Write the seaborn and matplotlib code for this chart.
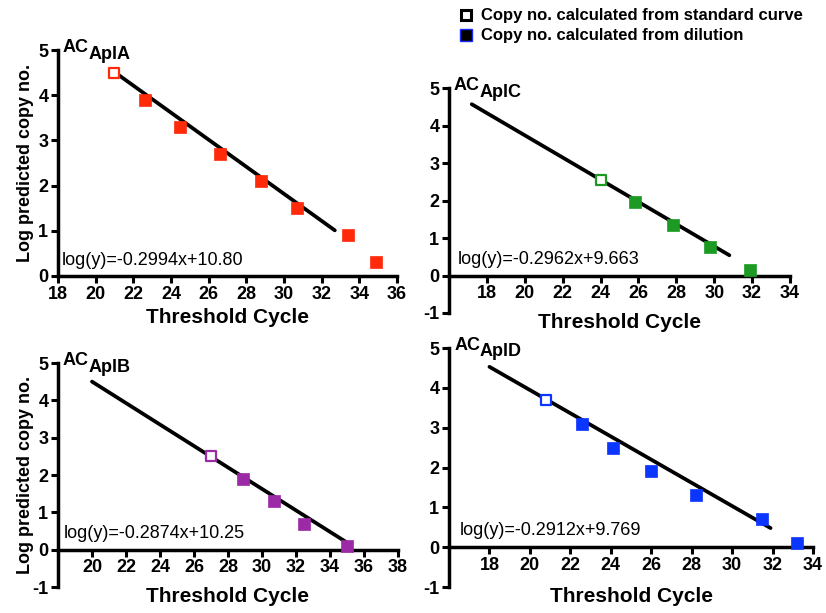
import matplotlib
matplotlib.use("Agg")
import matplotlib.pyplot as plt
from matplotlib.lines import Line2D
import seaborn as sns

# Values: threshold cycle (x) vs log predicted copy no. (y)
# std = copy no. from standard curve (open square), dil = from dilution (filled)

# AC AplA
a_std_x = [21.0]
a_std_y = [4.5]
a_dil_x = [22.6, 24.5, 26.6, 28.8, 30.7, 33.4, 34.9]
a_dil_y = [3.9, 3.3, 2.7, 2.1, 1.5, 0.9, 0.3]
a_fit = (-0.2994, 10.80)
a_fit_x = [21.0, 32.7]

# AC AplC
c_std_x = [24.0]
c_std_y = [2.55]
c_dil_x = [25.8, 27.8, 29.8, 31.9]
c_dil_y = [1.95, 1.35, 0.75, 0.15]
c_fit = (-0.2962, 9.663)
c_fit_x = [17.2, 30.8]

# AC AplB
b_std_x = [27.0]
b_std_y = [2.5]
b_dil_x = [28.9, 30.7, 32.5, 35.0]
b_dil_y = [1.9, 1.3, 0.7, 0.1]
b_fit = (-0.2874, 10.25)
b_fit_x = [20.0, 35.0]

# AC AplD
d_std_x = [20.8]
d_std_y = [3.7]
d_dil_x = [22.6, 24.1, 26.0, 28.2, 31.5, 33.2]
d_dil_y = [3.1, 2.5, 1.9, 1.3, 0.7, 0.1]
d_fit = (-0.2912, 9.769)
d_fit_x = [18.0, 31.9]

# equation labels as printed on the panels
a_eq = "log(y)=-0.2994x+10.80"
c_eq = "log(y)=-0.2962x+9.663"
b_eq = "log(y)=-0.2874x+10.25"
d_eq = "log(y)=-0.2912x+9.769"

a_xticks = [18, 20, 22, 24, 26, 28, 30, 32, 34, 36]
c_xticks = [18, 20, 22, 24, 26, 28, 30, 32, 34]
b_xticks = [20, 22, 24, 26, 28, 30, 32, 34, 36, 38]
d_xticks = [18, 20, 22, 24, 26, 28, 30, 32, 34]

sns.set_style("ticks")
plt.rcParams['font.family'] = ['Liberation Sans', 'DejaVu Sans']
plt.rcParams['axes.unicode_minus'] = False
for key in ['text.color', 'axes.labelcolor', 'xtick.color', 'ytick.color', 'axes.edgecolor']:
    plt.rcParams[key] = 'black'

fig = plt.figure(figsize=(8.26, 6.13), dpi=100)

ax_a = fig.add_axes([0.0702, 0.5498, 0.4104, 0.3686])
ax_c = fig.add_axes([0.5436, 0.4894, 0.4128, 0.3670])
ax_b = fig.add_axes([0.0702, 0.0424, 0.4116, 0.3654])
ax_d = fig.add_axes([0.5436, 0.0424, 0.4407, 0.3899])


def draw_panel(ax, std_x, std_y, dil_x, dil_y, fit, fit_x, eq, color, name,
               xlim, ylim, xticks, eq_pos, ylabel=False):
    slope, icpt = fit
    fit_y = [slope * x + icpt for x in fit_x]
    sns.lineplot(x=fit_x, y=fit_y, ax=ax, color="black", lw=2.7, sort=False)
    sns.scatterplot(x=dil_x, y=dil_y, ax=ax, marker="s", s=64, color=color,
                    edgecolor=color, linewidth=0.5, zorder=3)
    sns.scatterplot(x=std_x, y=std_y, ax=ax, marker="s", s=60, facecolor="white",
                    edgecolor=color, linewidth=1.6, zorder=3)

    ax.set_xlim(*xlim)
    ax.set_ylim(*ylim)
    ax.set_xticks(xticks)
    ax.set_yticks(range(ylim[0], ylim[1] + 1))
    for side in ["top", "right"]:
        ax.spines[side].set_visible(False)
    for side in ["left", "bottom"]:
        ax.spines[side].set_linewidth(2.5)
    if ylim[0] < 0:
        ax.spines["bottom"].set_position(("data", 0))
    ax.tick_params(width=2.2, length=5, labelsize=13, pad=2)
    for lab in ax.get_xticklabels() + ax.get_yticklabels():
        lab.set_fontweight("bold")

    ax.set_xlabel("Threshold Cycle", fontsize=15, fontweight="bold")
    if ylim[0] < 0:
        ax.xaxis.set_label_coords(0.5, 0.0)
    if ylabel:
        ax.set_ylabel("Log predicted copy no.", fontsize=13, fontweight="bold")
        ax.yaxis.set_label_coords(-0.07, 0.5)
    else:
        ax.set_ylabel("")

    ax.text(eq_pos[0], eq_pos[1], eq, transform=ax.transAxes,
            fontsize=13, va="center", ha="left")

    # "AC" with the gene name set as a same-size subscript
    ax.annotate("AC", xy=(0.014, 1.01), xycoords="axes fraction", fontsize=13,
                fontweight="bold", ha="left", va="center")
    ax.annotate(name, xy=(0.014, 1.01), xycoords="axes fraction", xytext=(18.5, -4.5),
                textcoords="offset points", fontsize=13, fontweight="bold",
                ha="left", va="center")


draw_panel(ax_a, a_std_x, a_std_y, a_dil_x, a_dil_y, a_fit, a_fit_x, a_eq, "#ff2a0a", "AplA",
           (18, 36), (0, 5), a_xticks, (0.012, 0.07), ylabel=True)
draw_panel(ax_c, c_std_x, c_std_y, c_dil_x, c_dil_y, c_fit, c_fit_x, c_eq, "#1c9a24", "AplC",
           (16, 34), (-1, 5), c_xticks, (0.026, 0.24))
draw_panel(ax_b, b_std_x, b_std_y, b_dil_x, b_dil_y, b_fit, b_fit_x, b_eq, "#9c2aa6", "AplB",
           (18, 38), (-1, 5), b_xticks, (0.018, 0.237), ylabel=True)
draw_panel(ax_d, d_std_x, d_std_y, d_dil_x, d_dil_y, d_fit, d_fit_x, d_eq, "#0a36ff", "AplD",
           (16, 34), (-1, 5), d_xticks, (0.03, 0.238))

handles = [
    Line2D([], [], ls="", marker="s", ms=7.5, mfc="white", mec="black", mew=2.2),
    Line2D([], [], ls="", marker="s", ms=8, mfc="black", mec="#1a2aff", mew=1),
]
fig.legend(handles, ["Copy no. calculated from standard curve",
                     "Copy no. calculated from dilution"],
           loc="upper left", bbox_to_anchor=(0.546, 1.0), frameon=False,
           prop={"weight": "bold", "size": 12}, handlelength=0.8,
           handletextpad=0.5, labelspacing=0.3, borderaxespad=0.1)

fig.savefig("out.png", dpi=100)
